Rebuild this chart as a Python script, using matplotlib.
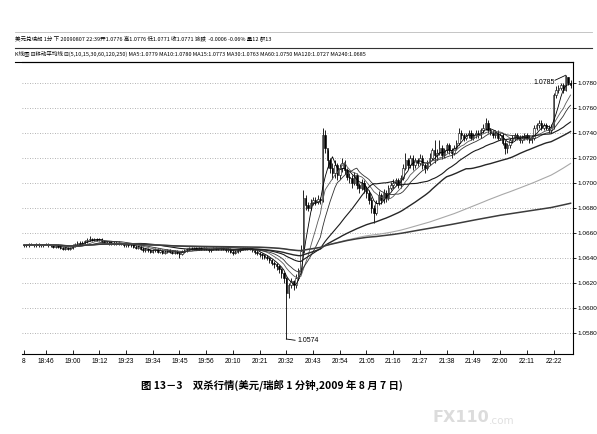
import numpy as np
import pandas as pd
import matplotlib
matplotlib.use('Agg')
import matplotlib.pyplot as plt
from matplotlib.lines import Line2D
from matplotlib import font_manager

plt.rcParams['font.family'] = ['Noto Sans CJK SC', 'DejaVu Sans']
names = {f.name for f in font_manager.fontManager.ttflist}
narrow = 'Liberation Sans Narrow' if 'Liberation Sans Narrow' in names else 'Liberation Sans'

# USD/CHF 1-minute bars, prices in pips above 1.0500
close = [150,150,151,150,150,151,150,150,150,151,
         150,150,149,150,149,148,147,148,147,148,
         150,151,152,151,152,153,154,155,154,155,
         154,155,153,152,152,151,152,151,152,151,
         151,150,151,150,150,149,148,149,147,146,
         147,146,145,146,147,145,146,144,145,146,
         145,144,145,144,143,145,146,147,148,147,
         148,147,148,147,148,147,146,147,148,147,
         147,148,147,146,147,145,144,145,146,147,
         148,147,148,147,146,145,144,143,142,141,
         140,138,136,135,133,131,128,124,112,118,
         121,118,124,130,145,188,182,180,184,186,
         185,187,186,238,228,218,212,208,214,206,
         212,216,210,205,204,200,206,198,196,200,
         195,192,186,180,176,184,190,186,192,188,
         196,198,200,202,198,204,212,218,214,220,
         214,218,216,220,214,212,216,220,226,222,
         224,228,222,226,230,226,224,228,232,240,
         238,236,238,240,236,238,240,238,242,244,
         248,242,240,238,240,236,238,232,228,230,
         234,236,238,236,234,236,238,236,234,236,
         244,246,248,244,246,244,242,245,270,274,
         276,278,274,285,280,278]
high = [151,151,152,152,151,152,152,151,151,152,
        152,151,151,151,151,150,149,149,149,149,
        151,152,153,153,153,154,156,157,156,156,
        156,156,156,154,153,153,153,153,153,153,
        152,152,152,152,151,151,150,150,150,149,
        148,148,147,147,148,148,147,147,146,147,
        147,146,146,146,145,146,147,148,149,149,
        149,149,149,149,149,149,148,148,149,149,
        148,149,149,148,148,148,146,146,147,148,
        149,149,149,149,148,147,146,145,144,143,
        142,141,139,137,136,134,132,129,125,120,
        124,122,127,132,150,194,190,185,187,189,
        189,190,189,244,242,226,220,216,218,216,
        215,220,218,212,208,206,209,208,200,203,
        202,197,194,189,182,186,193,192,195,194,
        198,201,203,204,204,206,215,224,220,222,
        222,220,220,223,222,216,218,224,228,234,
        227,234,230,228,232,232,228,230,234,244,
        242,240,240,242,242,240,242,242,244,247,
        252,250,244,242,242,242,240,240,234,232,
        236,238,240,240,238,238,240,240,238,238,
        246,248,250,250,248,248,246,247,272,277,
        278,280,280,286,285,282]
low = [149,149,149,150,149,149,149,149,149,150,
       149,149,148,148,148,147,146,146,146,146,
       147,149,150,150,150,151,152,153,153,153,
       153,153,152,151,151,150,150,150,150,150,
       150,149,149,149,149,148,147,147,146,145,
       145,145,144,144,145,144,144,143,143,144,
       144,143,143,143,140,142,144,145,146,146,
       146,146,146,146,146,146,145,145,146,146,
       146,146,146,145,145,144,142,143,144,145,
       146,146,146,146,145,143,142,141,139,139,
       138,136,134,132,130,128,124,120,75,108,
       116,114,116,122,127,144,178,177,178,182,
       182,183,183,185,224,212,208,203,204,202,
       203,209,207,202,200,196,198,195,192,194,
       192,188,183,176,168,174,182,183,184,185,
       186,194,196,198,196,196,202,210,211,212,
       210,212,213,214,211,208,210,214,218,216,
       218,222,219,220,224,223,220,222,226,230,
       235,233,234,236,234,234,236,236,236,240,
       242,240,238,236,236,234,234,230,223,224,
       228,232,234,234,232,232,234,234,232,232,
       234,242,244,242,242,242,240,240,243,268,
       272,274,272,273,278,276]

ma_periods = [5, 10, 15, 30, 60, 120, 240]
ma_colors = ['#000000', '#5a5a5a', '#303030', '#1a1a1a', '#262626', '#a8a8a8', '#3c3c3c']
ma_widths = [0.6, 0.6, 0.6, 0.8, 1.0, 0.8, 1.1]

tick_pos = [0, 9, 20, 31, 42, 53, 64, 75, 86, 97, 108, 119, 130, 141, 152, 163, 174, 185, 196, 207, 218]
tick_labels = ['8', '18:46', '19:00', '19:12', '19:23', '19:34', '19:45', '19:56', '20:10', '20:21',
               '20:32', '20:43', '20:54', '21:05', '21:16', '21:27', '21:38', '21:49', '22:00', '22:11', '22:22']
y_levels = [1.0580, 1.0600, 1.0620, 1.0640, 1.0660, 1.0680, 1.0700, 1.0720, 1.0740, 1.0760, 1.0780]

df = pd.DataFrame({'close': close, 'high': high, 'low': low})
df = 1.05 + df / 10000.0
df['open'] = df['close'].shift(1).fillna(df['close'].iloc[0])
x = np.arange(len(df))

W, H = 597, 434
fig = plt.figure(figsize=(W / 100, H / 100), dpi=100)
ax = fig.add_axes([22 / W, (H - 354) / H, 551 / W, 292 / H])

for lv in y_levels:
    ax.axhline(lv, color='#9a9a9a', lw=0.6, ls=(0, (1, 2)), zorder=0)

# candles
ax.vlines(x, df['low'], df['high'], color='black', lw=0.6, zorder=2)
up = df['close'] >= df['open']
body = (df['close'] - df['open']).abs().clip(lower=0.00004)
bottom = df[['open', 'close']].min(axis=1)
ax.bar(x[up], body[up], bottom=bottom[up], width=0.6, color='white', edgecolor='black', lw=0.4, zorder=3)
ax.bar(x[~up], body[~up], bottom=bottom[~up], width=0.6, color='black', edgecolor='black', lw=0.4, zorder=3)

for p, c, w in zip(ma_periods, ma_colors, ma_widths):
    ax.plot(x, df['close'].rolling(p, min_periods=1).mean(), color=c, lw=w, zorder=4)

small = [narrow, 'DejaVu Sans']

# low / high markers
ax.plot([108, 111.6], [1.05750, 1.05740], color='black', lw=0.6)
ax.text(112.4, 1.05740, '1.0574', fontsize=5, family=small, va='center', ha='left')
ax.plot([218.6, 223], [1.07820, 1.07860], color='black', lw=0.6)
ax.text(218.4, 1.07805, '1.0785', fontsize=5, family=small, va='center', ha='right')

ax.set_xlim(-0.8, 226)
ax.set_ylim(1.05630, 1.07966)
ax.spines['left'].set_visible(False)
for s in ['top', 'right', 'bottom']:
    ax.spines[s].set_linewidth(0.8)
ax.yaxis.tick_right()
ax.set_yticks(y_levels)
ax.set_yticklabels(['%.4f' % v for v in y_levels], fontsize=4.6, family=small)
ax.tick_params(axis='y', direction='out', length=2, width=0.6, pad=1)
ax.set_xticks(tick_pos)
ax.set_xticklabels(tick_labels, fontsize=4.8, family=small)
ax.tick_params(axis='x', direction='in', length=3, width=0.6, pad=3)

# header
fig.add_artist(Line2D([15 / W, 592 / W], [1 - 32 / H] * 2, color='#bbbbbb', lw=0.6))
fig.add_artist(Line2D([15 / W, 592 / W], [1 - 48 / H] * 2, color='#333333', lw=0.8))
fig.add_artist(Line2D([15 / W, 573 / W], [1 - 61.5 / H] * 2, color='black', lw=0.8))
fig.text(15 / W, 1 - 38 / H,
         '美元兑瑞郎 1分 下 20090807 22:39开1.0776 高1.0776 低1.0771 收1.0771 涨跌  -0.0006 -0.06% 量12 额13',
         fontsize=4.0, va='center', ha='left')
fig.text(15 / W, 1 - 53.5 / H,
         'K线图 ⊟移动平均线 ⊟(5,10,15,30,60,120,250) MA5:1.0779 MA10:1.0780 MA15:1.0773 '
         'MA30:1.0763 MA60:1.0750 MA120:1.0727 MA240:1.0685',
         fontsize=4.0, va='center', ha='left')

# caption and watermark
fig.text(272 / W, 1 - 385 / H, '图 13－3　双杀行情(美元/瑞郎 1 分钟,2009 年 8 月 7 日)',
         fontsize=7.5, fontweight='bold', ha='center', va='center')
fig.text(432 / W, 1 - 418 / H, 'FX110', fontsize=11.5, fontweight='bold', color='#dcdcdc',
         ha='left', va='center', family='DejaVu Sans')
fig.text(489 / W, 1 - 421 / H, '.com', fontsize=7.5, color='#e0e0e0', ha='left', va='center', family='DejaVu Sans')

fig.savefig('out.png', dpi=100)
